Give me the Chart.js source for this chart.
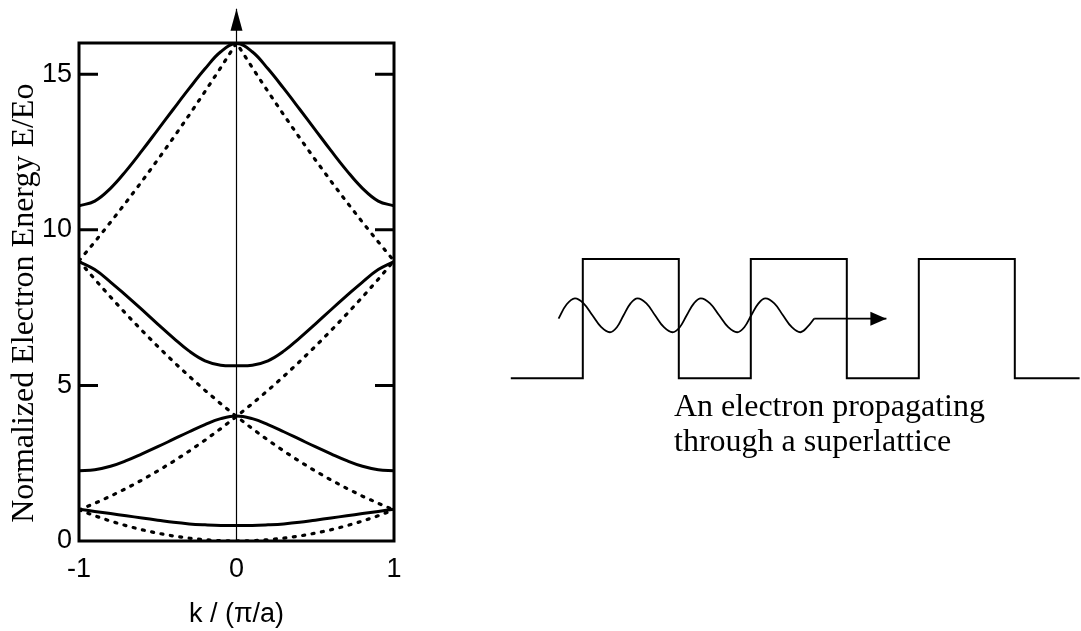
<!DOCTYPE html>
<html>
<head>
<meta charset="utf-8">
<title>Superlattice band structure</title>
<script src="https://cdn.jsdelivr.net/npm/chart.js@4.4.1/dist/chart.umd.min.js"></script>
<style>
  html, body { margin: 0; padding: 0; background: #fff; overflow: hidden; }
  body { width: 1081px; height: 631px; position: relative; }
  #bandBox { position: absolute; left: 0; top: 0; width: 420px; height: 631px; }
  #latticeBox { position: absolute; left: 500px; top: 240px; width: 581px; height: 160px; }
  #caption {
    position: absolute; left: 674px; top: 388px;
    font: 32px/35px "Liberation Serif", "Times New Roman", serif;
    color: #000; white-space: nowrap;
  }
</style>
</head>
<body>
<div id="bandBox"><canvas id="bandChart" width="420" height="631"></canvas></div>
<div id="latticeBox"><canvas id="latticeChart" width="581" height="160"></canvas></div>
<div id="caption">An electron propagating<br>through a superlattice</div>
<script>
// wave vector k / (pi/a)
const kValues = [-1, -0.9, -0.8, -0.7, -0.6, -0.5, -0.4, -0.3, -0.2, -0.1, 0,
                 0.1, 0.2, 0.3, 0.4, 0.5, 0.6, 0.7, 0.8, 0.9, 1];

// allowed bands in the superlattice (solid lines), E/Eo
const band1 = [1.02, 0.95, 0.88, 0.81, 0.74, 0.67, 0.60, 0.55, 0.52, 0.50, 0.50,
               0.50, 0.52, 0.55, 0.60, 0.67, 0.74, 0.81, 0.88, 0.95, 1.02];
const band2 = [2.26, 2.29, 2.40, 2.58, 2.80, 3.03, 3.27, 3.51, 3.74, 3.93, 4.02,
               3.93, 3.74, 3.51, 3.27, 3.03, 2.80, 2.58, 2.40, 2.29, 2.26];
const band3 = [8.98, 8.72, 8.32, 7.88, 7.43, 6.97, 6.52, 6.10, 5.79, 5.65, 5.63,
               5.65, 5.79, 6.10, 6.52, 6.97, 7.43, 7.88, 8.32, 8.72, 8.98];
const band4 = [10.77, 10.92, 11.33, 11.90, 12.54, 13.21, 13.88, 14.54, 15.17, 15.72, 15.98,
               15.72, 15.17, 14.54, 13.88, 13.21, 12.54, 11.90, 11.33, 10.92, 10.77];

// free electron parabolas folded into the zone (dotted lines)
const free0 = [1, 0.81, 0.64, 0.49, 0.36, 0.25, 0.16, 0.09, 0.04, 0.01, 0,
               0.01, 0.04, 0.09, 0.16, 0.25, 0.36, 0.49, 0.64, 0.81, 1];
const freeUp = [1, 1.21, 1.44, 1.69, 1.96, 2.25, 2.56, 2.89, 3.24, 3.61, 4,
                4.41, 4.84, 5.29, 5.76, 6.25, 6.76, 7.29, 7.84, 8.41, 9];
const freeDown = [9, 8.41, 7.84, 7.29, 6.76, 6.25, 5.76, 5.29, 4.84, 4.41, 4,
                  3.61, 3.24, 2.89, 2.56, 2.25, 1.96, 1.69, 1.44, 1.21, 1];
const freeTop = [9, 9.61, 10.24, 10.89, 11.56, 12.25, 12.96, 13.69, 14.44, 15.21, 16,
                 15.21, 14.44, 13.69, 12.96, 12.25, 11.56, 10.89, 10.24, 9.61, 9];

const kTicks = [-1, 0, 1];
const energyTicks = [0, 5, 10, 15];
const axisArrowK = [0, 0];
const axisArrowE = [0, 17.1];

// superlattice sketch: potential profile, electron wave, propagation arrow
const latticeX = [0, 3, 3, 7, 7, 10, 10, 14, 14, 17, 17, 21, 21, 23.7];
const latticeV = [0, 0, 1, 1, 0, 0, 1, 1, 0, 0, 1, 1, 0, 0];
const waveX = [1.99, 2.33, 2.67, 3.03, 3.40, 3.77, 4.13, 4.42, 4.70, 4.99, 5.28,
               5.65, 6.01, 6.38, 6.74, 7.04, 7.33, 7.63, 7.92, 8.30, 8.68,
               9.06, 9.43, 9.73, 10.02, 10.32, 10.61, 10.98, 11.34, 11.71, 12.07,
               12.36, 12.64];
const waveY = [0.50, 0.62, 0.67, 0.628, 0.528, 0.428, 0.386, 0.428, 0.528, 0.628, 0.67,
               0.628, 0.528, 0.428, 0.386, 0.428, 0.528, 0.628, 0.67, 0.628, 0.528,
               0.428, 0.386, 0.428, 0.528, 0.628, 0.67, 0.628, 0.528, 0.428, 0.386,
               0.43, 0.50];
const arrowX = [12.64, 15.65];
const arrowY = [0.50, 0.50];

const toPoints = (xs, ys) => xs.map((x, i) => ({ x: x, y: ys[i] }));

// border box and inward tick marks
const framePlugin = {
    id: 'frame',
    afterDatasetsDraw(chart) {
        const { ctx, chartArea: a } = chart;
        const y = chart.scales.y;
        ctx.save();
        ctx.strokeStyle = '#000';
        ctx.lineWidth = 3;
        ctx.strokeRect(a.left, a.top, a.right - a.left, a.bottom - a.top);
        energyTicks.filter(v => v > 0).forEach(v => {
            const py = y.getPixelForValue(v);
            ctx.beginPath();
            ctx.moveTo(a.left, py); ctx.lineTo(a.left + 19, py);
            ctx.moveTo(a.right - 19, py); ctx.lineTo(a.right, py);
            ctx.stroke();
        });
        ctx.restore();
    }
};

// filled arrow head at the last point of a dataset
const arrowHeadPlugin = {
    id: 'arrowHeads',
    afterDatasetsDraw(chart, args, opts) {
        const ctx = chart.ctx;
        (opts.heads || []).forEach(h => {
            const pts = chart.getDatasetMeta(h.dataset).data;
            const tip = pts[pts.length - 1], prev = pts[pts.length - 2];
            const ang = Math.atan2(tip.y - prev.y, tip.x - prev.x);
            const bx = tip.x - Math.cos(ang) * h.length;
            const by = tip.y - Math.sin(ang) * h.length;
            const nx = -Math.sin(ang) * h.halfWidth, ny = Math.cos(ang) * h.halfWidth;
            ctx.save();
            ctx.fillStyle = '#000';
            ctx.beginPath();
            ctx.moveTo(tip.x, tip.y);
            ctx.lineTo(bx + nx, by + ny);
            ctx.lineTo(bx - nx, by - ny);
            ctx.closePath();
            ctx.fill();
            ctx.restore();
        });
    }
};

const solid = (data) => ({
    data: data,
    borderColor: '#000',
    borderWidth: 3,
    pointRadius: 0,
    tension: 0.4,
    fill: false
});
const dotted = (data) => ({
    data: data,
    borderColor: '#000',
    borderWidth: 3.2,
    borderDash: [2, 7.5],
    borderCapStyle: 'round',
    pointRadius: 0,
    tension: 0,
    fill: false
});

const tickFont = { family: '"Liberation Sans", Arial, sans-serif', size: 27 };

new Chart(document.getElementById('bandChart').getContext('2d'), {
    type: 'line',
    data: {
        datasets: [
            solid(toPoints(kValues, band1)),
            solid(toPoints(kValues, band2)),
            solid(toPoints(kValues, band3)),
            solid(toPoints(kValues, band4)),
            dotted(toPoints(kValues, free0)),
            dotted(toPoints(kValues, freeUp)),
            dotted(toPoints(kValues, freeDown)),
            dotted(toPoints(kValues, freeTop)),
            {
                data: toPoints(axisArrowK, axisArrowE),
                borderColor: '#000',
                borderWidth: 1.2,
                pointRadius: 0,
                clip: false
            }
        ]
    },
    options: {
        responsive: false,
        animation: false,
        layout: { padding: { top: 43, right: 26, bottom: 0, left: 0 } },
        scales: {
            x: {
                type: 'linear',
                min: -1,
                max: 1,
                afterBuildTicks: s => { s.ticks = kTicks.map(v => ({ value: v })); },
                afterFit: s => { s.height = 90; },
                grid: { display: false, drawTicks: false },
                border: { display: false },
                ticks: { color: '#000', font: tickFont, padding: 12, maxRotation: 0 },
                title: {
                    display: true,
                    text: 'k / (π/a)',
                    color: '#000',
                    font: tickFont,
                    padding: { top: 0, bottom: 0 }
                }
            },
            y: {
                min: 0,
                max: 16,
                afterBuildTicks: s => { s.ticks = energyTicks.map(v => ({ value: v })); },
                afterFit: s => { s.width = 79; },
                grid: { display: false, drawTicks: false },
                border: { display: false },
                ticks: { color: '#000', font: tickFont, padding: 7 },
                title: {
                    display: true,
                    text: 'Normalized Electron Energy E/Eo  \u2009',
                    color: '#000',
                    font: { family: '"Liberation Serif", "Times New Roman", serif', size: 32 },
                    padding: { top: 5, bottom: 0 }
                }
            }
        },
        plugins: {
            legend: { display: false },
            tooltip: { enabled: false },
            arrowHeads: { heads: [{ dataset: 8, length: 22, halfWidth: 6 }] }
        }
    },
    plugins: [framePlugin, arrowHeadPlugin]
});

new Chart(document.getElementById('latticeChart').getContext('2d'), {
    type: 'line',
    data: {
        datasets: [
            {
                label: 'Potential',
                data: toPoints(latticeX, latticeV),
                borderColor: '#000',
                borderWidth: 2,
                pointRadius: 0,
                tension: 0,
                borderJoinStyle: 'miter'
            },
            {
                label: 'Electron wave',
                data: toPoints(waveX, waveY),
                borderColor: '#000',
                borderWidth: 1.8,
                pointRadius: 0,
                tension: 0.4
            },
            {
                label: 'Direction',
                data: toPoints(arrowX, arrowY),
                borderColor: '#000',
                borderWidth: 1.8,
                pointRadius: 0
            }
        ]
    },
    options: {
        responsive: false,
        animation: false,
        layout: { padding: 0 },
        scales: {
            x: { type: 'linear', display: false, min: -0.45, max: 23.758 },
            y: { display: false, min: -0.182, max: 1.159 }
        },
        plugins: {
            legend: { display: false },
            tooltip: { enabled: false },
            arrowHeads: { heads: [{ dataset: 2, length: 16, halfWidth: 7 }] }
        }
    },
    plugins: [arrowHeadPlugin]
});
</script>
</body>
</html>
